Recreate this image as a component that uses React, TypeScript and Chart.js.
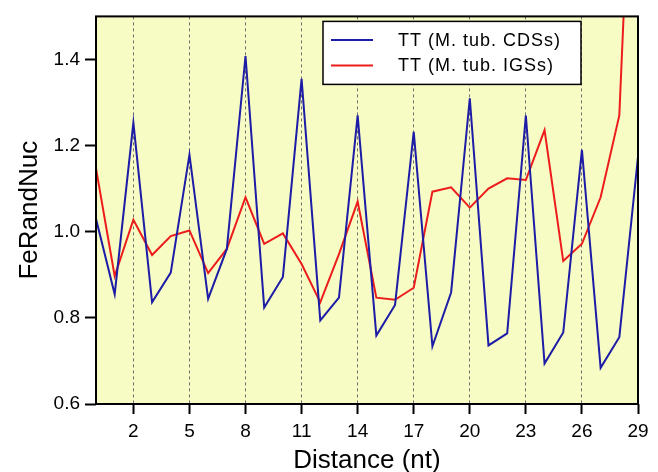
import React, { useEffect, useRef } from "react";
import { Chart, registerables } from "chart.js";
Chart.register(...registerables);

const distance = [0, 1, 2, 3, 4, 5, 6, 7, 8, 9, 10, 11, 12, 13, 14, 15, 16, 17, 18, 19, 20, 21, 22, 23, 24, 25, 26, 27, 28, 29];
const cdsValues = [1.03, 0.855, 1.253, 0.836, 0.905, 1.179, 0.844, 0.96, 1.408, 0.824, 0.895, 1.355, 0.794, 0.847, 1.27, 0.759, 0.83, 1.232, 0.734, 0.859, 1.31, 0.736, 0.764, 1.27, 0.694, 0.766, 1.19, 0.684, 0.755, 1.174];
const igsValues = [1.147, 0.897, 1.028, 0.946, 0.99, 1.003, 0.904, 0.96, 1.08, 0.972, 0.996, 0.925, 0.836, 0.948, 1.07, 0.847, 0.842, 0.87, 1.093, 1.103, 1.056, 1.1, 1.124, 1.12, 1.236, 0.932, 0.972, 1.08, 1.27, 2.28];
const xTicks = [2, 5, 8, 11, 14, 17, 20, 23, 26, 29];
const yTicks = [0.6, 0.8, 1.0, 1.2, 1.4];
const seriesLabels = ["TT (M. tub. CDSs)", "TT (M. tub. IGSs)"];

const FONT = "'Liberation Sans', Arial, sans-serif";

const bgPlugin = {
  id: "bgPlugin",
  beforeDraw(chart: any) {
    const { ctx, chartArea: a } = chart;
    ctx.save();
    ctx.fillStyle = "#ffffff";
    ctx.fillRect(0, 0, chart.width, chart.height);
    ctx.fillStyle = "#f7fbc4";
    ctx.fillRect(a.left, a.top, a.right - a.left, a.bottom - a.top);
    ctx.restore();
  },
  afterDatasetsDraw(chart: any) {
    const { ctx, chartArea: a } = chart;
    ctx.save();
    ctx.strokeStyle = "#000";
    ctx.lineWidth = 2;
    ctx.setLineDash([]);
    ctx.strokeRect(a.left, a.top, a.right - a.left, a.bottom - a.top);
    ctx.restore();
  },
  afterDraw(chart: any) {
    const { ctx, chartArea: a } = chart;
    const right = a.right - 57;
    const left = a.left + 227;
    const top = a.top + 5;
    const h = 63;
    ctx.save();
    ctx.fillStyle = "#fff";
    ctx.fillRect(left, top, right - left, h);
    ctx.strokeStyle = "#000";
    ctx.lineWidth = 1.5;
    ctx.strokeRect(left, top, right - left, h);
    chart.data.datasets.forEach((ds: any, i: number) => {
      const y = top + 18.5 + i * 25.5;
      ctx.strokeStyle = ds.borderColor;
      ctx.lineWidth = 2;
      ctx.beginPath();
      ctx.moveTo(left + 8, y);
      ctx.lineTo(left + 50, y);
      ctx.stroke();
      ctx.fillStyle = "#000";
      ctx.font = `18px ${FONT}`;
      try {
        (ctx as any).letterSpacing = "1px";
      } catch (e) {}
      ctx.textBaseline = "middle";
      ctx.textAlign = "left";
      ctx.fillText(ds.label, left + 75, y + 1);
    });
    ctx.restore();
  },
};

export default function App() {
  const ref = useRef<HTMLCanvasElement>(null);
  useEffect(() => {
    if (!ref.current) return;
    const chart = new Chart(ref.current, {
      type: "line",
      data: {
        datasets: [
          {
            label: seriesLabels[0],
            data: distance.map((d, i) => ({ x: d, y: cdsValues[i] })),
            borderColor: "#1c1ca6",
            borderWidth: 2,
            pointRadius: 0,
            tension: 0,
          },
          {
            label: seriesLabels[1],
            data: distance.map((d, i) => ({ x: d, y: igsValues[i] })),
            borderColor: "#ec1c1c",
            borderWidth: 2,
            pointRadius: 0,
            tension: 0,
          },
        ],
      },
      options: {
        animation: false,
        responsive: false,
        layout: { padding: { top: 13, right: 20, left: 0, bottom: 0 } },
        plugins: { legend: { display: false }, tooltip: { enabled: false } },
        scales: {
          x: {
            type: "linear",
            min: 0,
            max: 29,
            afterBuildTicks: (s: any) => {
              s.ticks = xTicks.map((v) => ({ value: v }));
            },
            afterFit: (s: any) => {
              s.height = 68;
            },
            grid: {
              color: "#6e6e6e",
              lineWidth: 1,
              drawTicks: true,
              tickLength: 10,
              tickColor: "#000",
              tickWidth: 2,
              tickBorderDash: [],
            } as any,
            border: { display: false, dash: [3, 3] },
            ticks: {
              color: "#000",
              font: { family: FONT, size: 19 },
              padding: 6,
              maxRotation: 0,
              autoSkip: false,
            },
            title: {
              display: true,
              text: "Distance (nt)",
              color: "#000",
              font: { family: FONT, size: 26 },
              padding: { top: 0, bottom: -4 },
            },
          },
          y: {
            min: 0.6,
            max: 1.5,
            afterBuildTicks: (s: any) => {
              s.ticks = yTicks.map((v) => ({ value: v }));
            },
            afterFit: (s: any) => {
              s.width = 96;
            },
            grid: {
              drawOnChartArea: false,
              drawTicks: true,
              tickLength: 11,
              tickColor: "#000",
              tickWidth: 2,
            } as any,
            border: { display: false },
            ticks: {
              color: "#000",
              font: { family: FONT, size: 19 },
              padding: 5,
              callback: (v: any) => Number(v).toFixed(1),
            },
            title: {
              display: true,
              text: "FeRandNuc",
              color: "#000",
              font: { family: FONT, size: 26 },
              padding: { top: 14, bottom: 0 },
            },
          },
        },
      },
      plugins: [bgPlugin],
    });
    return () => chart.destroy();
  }, []);
  return (
    <div style={{ position: "fixed", left: 0, top: 0, width: 658, height: 472 }}>
      <canvas ref={ref} width={658} height={472} style={{ display: "block" }} />
    </div>
  );
}
